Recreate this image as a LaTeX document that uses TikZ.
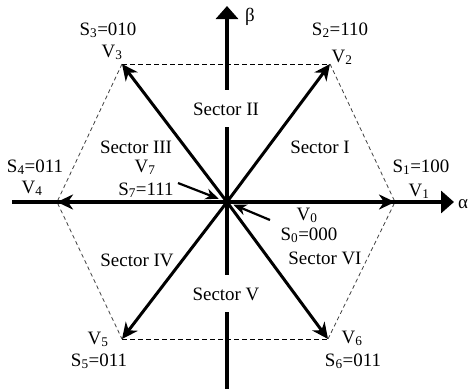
\documentclass[tikz,border=0pt]{standalone}
\usepackage{fontspec}
\setmainfont{Liberation Serif}
\usetikzlibrary{arrows.meta}
\begin{document}
\begin{tikzpicture}[x=1bp,y=-1bp,
  lbl/.style={font=\fontsize{19}{22}\selectfont, inner sep=0pt, anchor=base},
  axis/.style={line width=4bp,-{Triangle[length=13bp,width=22bp]}},
  vec/.style={line width=3bp,-{Stealth[length=16bp,width=15bp,inset=5bp]}},
  ptr/.style={line width=2.2bp,-{Stealth[length=13bp,width=11bp,inset=4bp]}},
  hexedge/.style={dash pattern=on 5bp off 3bp, line width=0.9bp},
  sideedge/.style={dash pattern=on 4bp off 3bp, line width=0.8bp, black!75},
  gaplbl/.style={lbl, fill=white, text height=13bp, text depth=0bp, inner ysep=12bp, inner xsep=1bp}]
\useasboundingbox (0,0) rectangle (469,388);
% geometry
\coordinate (O) at (227,202);
\coordinate (V1) at (395,202);
\coordinate (V2) at (330,64);
\coordinate (V3) at (122,64);
\coordinate (V4) at (57,202);
\coordinate (V5) at (122,339);
\coordinate (V6) at (328,339);
\coordinate (aL) at (12,202);
\coordinate (aR) at (454,202);
\coordinate (bB) at (227,390);
\coordinate (bT) at (227,6);
\coordinate (p7) at (178,183);
\coordinate (p0) at (270,220);
% hexagon
\draw[hexedge] (V3) -- (V2);
\draw[hexedge] (V5) -- (V6);
\draw[sideedge] (V2) -- (V1) -- (V6);
\draw[sideedge] (V3) -- (V4) -- (V5);
% axes
\draw[axis] (aL) -- (aR);
\draw[axis] (bB) -- (bT);
% vectors
\foreach \v in {V1,V2,V3,V4,V5,V6} \draw[vec] (O) -- (\v);
% gap labels on beta axis
\node[gaplbl] (sII) at (226,115) {Sector II};
\node[gaplbl] (sV) at (226,300) {Sector V};
% pointers
\draw[ptr, shorten >=9bp] (p7) -- (O);
\draw[ptr, shorten >=7bp] (p0) -- (O);
% labels
\node[lbl] (lS3) at (108,35) {S\textsubscript{3}=010};
\node[lbl] (lV3) at (112,57) {V\textsubscript{3}};
\node[lbl] (lS2) at (340,35) {S\textsubscript{2}=110};
\node[lbl] (lV2) at (342,62) {V\textsubscript{2}};
\node[lbl] (lS1) at (421,172) {S\textsubscript{1}=100};
\node[lbl] (lV1) at (419,196) {V\textsubscript{1}};
\node[lbl] (lS4) at (35,172) {S\textsubscript{4}=011};
\node[lbl] (lV4) at (32,193) {V\textsubscript{4}};
\node[lbl] (sIII) at (136,153) {Sector III};
\node[lbl] (lV7) at (145,172) {V\textsubscript{7}};
\node[lbl] (lS7) at (146,195) {S\textsubscript{7}=111};
\node[lbl] (lV0) at (307,220) {V\textsubscript{0}};
\node[lbl] (lS0) at (309,240) {S\textsubscript{0}=000};
\node[lbl] (sVI) at (325,264) {Sector VI};
\node[lbl] (sIV) at (137,266) {Sector IV};
\node[lbl] (sI) at (320,153) {Sector I};
\node[lbl] (lV5) at (98,344) {V\textsubscript{5}};
\node[lbl] (lS5) at (99,366) {S\textsubscript{5}=011};
\node[lbl] (lV6) at (352,343) {V\textsubscript{6}};
\node[lbl] (lS6) at (353,366) {S\textsubscript{6}=011};
\node[lbl] (beta) at (250,21) {β};
\node[lbl] (alpha) at (463,208) {α};
\end{tikzpicture}
\end{document}
